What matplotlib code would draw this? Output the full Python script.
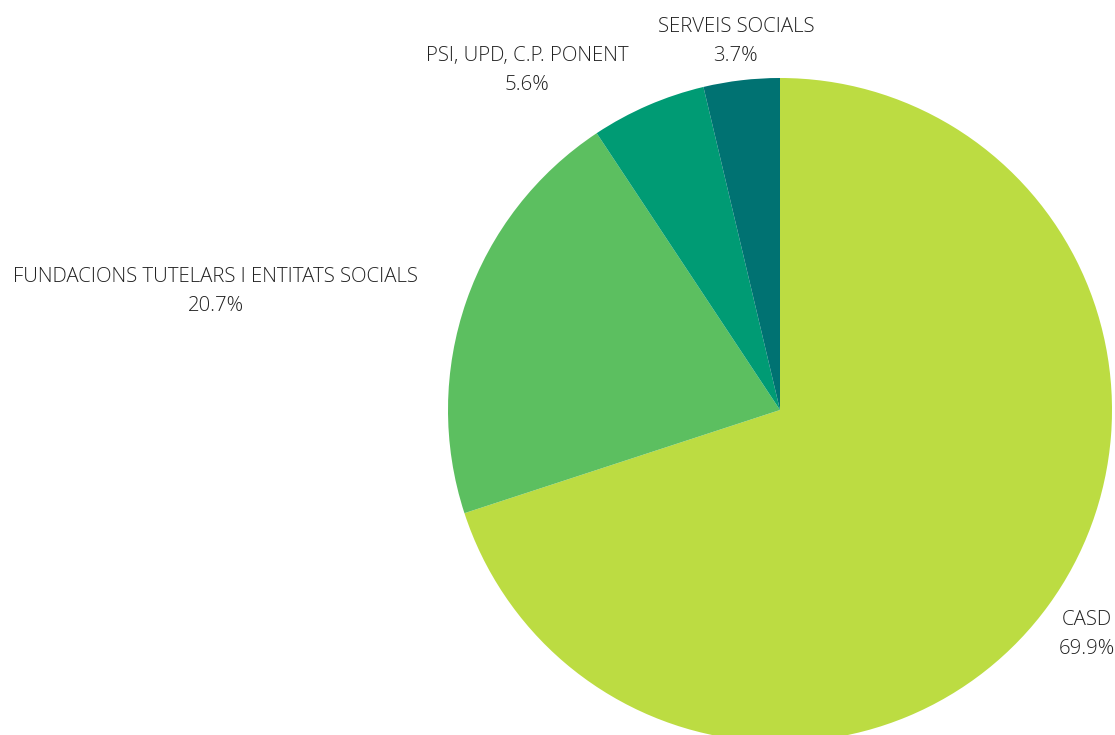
import matplotlib.pyplot as plt

# Slice data (clockwise from 12 o'clock)
labels = ['CASD', 'FUNDACIONS TUTELARS I ENTITATS SOCIALS', 'PSI, UPD, C.P. PONENT', 'SERVEIS SOCIALS']
values = [69.9, 20.7, 5.6, 3.7]
colors = ['#bcdc42', '#5cbf60', '#009b74', '#007272']

# label block centres, in pie radius units
label_pos = [(0.925, -0.675), (-1.699, 0.358), (-0.762, 1.024), (-0.133, 1.109)]

plt.rcParams['font.family'] = ['Open Sans', 'DejaVu Sans']

fig = plt.figure(figsize=(11.15, 7.35), dpi=100)
W, H = 1115, 735
cx, cy, r = 780, 410, 332
ax = fig.add_axes([(cx - r) / W, (H - cy - r) / H, 2 * r / W, 2 * r / H])

ax.pie(values, colors=colors, startangle=90, counterclock=False,
       wedgeprops=dict(linewidth=0), radius=1)
ax.set_xlim(-1, 1)
ax.set_ylim(-1, 1)
ax.set_aspect('equal')
ax.axis('off')

for name, v, (x, y) in zip(labels, values, label_pos):
    ax.text(x, y, f'{name}\n{v}%', ha='center', va='center', multialignment='center',
            fontsize=14.7, fontweight='light', color='#222222', linespacing=1.6,
            clip_on=False)

plt.savefig('out.png', dpi=100)
